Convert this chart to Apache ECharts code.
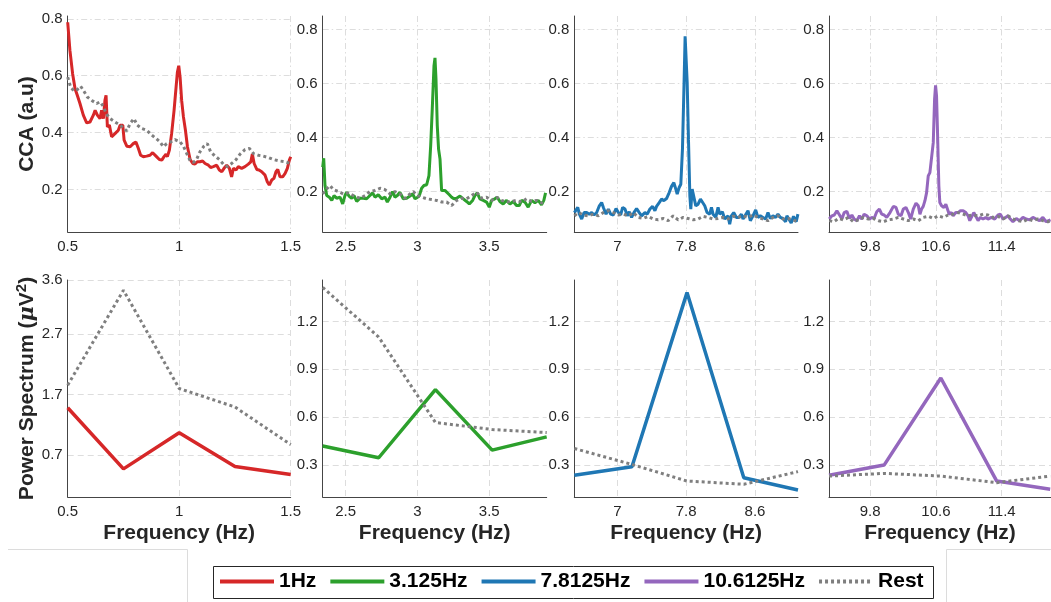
<!DOCTYPE html>
<html>
<head>
<meta charset="utf-8">
<script src="https://cdn.jsdelivr.net/npm/echarts@6/dist/echarts.min.js"></script>
<style>
  html, body { margin: 0; padding: 0; background: #ffffff; }
  #chart { width: 1051px; height: 602px; }
</style>
</head>
<body>
<div id="chart"></div>
<script>
// ---- CCA coefficient vs. frequency (top row), [Hz, a.u] ----
const cca1Hz = [[0.500,0.788],[0.510,0.689],[0.522,0.607],[0.533,0.554],[0.543,0.531],[0.555,0.502],[0.570,0.461],[0.585,0.434],[0.600,0.437],[0.615,0.461],[0.623,0.478],[0.633,0.461],[0.645,0.449],[0.652,0.478],[0.660,0.449],[0.667,0.513],[0.672,0.531],[0.678,0.420],[0.687,0.426],[0.697,0.385],[0.712,0.396],[0.727,0.408],[0.735,0.426],[0.747,0.426],[0.753,0.373],[0.765,0.352],[0.780,0.350],[0.794,0.361],[0.806,0.367],[0.817,0.344],[0.827,0.320],[0.839,0.315],[0.854,0.317],[0.869,0.320],[0.881,0.329],[0.896,0.317],[0.911,0.305],[0.922,0.303],[0.932,0.315],[0.941,0.324],[0.947,0.315],[0.956,0.338],[0.966,0.396],[0.977,0.478],[0.986,0.560],[0.992,0.613],[0.998,0.635],[1.004,0.595],[1.011,0.513],[1.019,0.455],[1.028,0.408],[1.037,0.350],[1.049,0.305],[1.061,0.291],[1.071,0.289],[1.081,0.297],[1.093,0.297],[1.105,0.300],[1.116,0.291],[1.131,0.285],[1.141,0.277],[1.153,0.280],[1.168,0.285],[1.180,0.268],[1.191,0.262],[1.201,0.274],[1.213,0.285],[1.225,0.274],[1.235,0.244],[1.243,0.274],[1.255,0.268],[1.265,0.280],[1.280,0.274],[1.295,0.280],[1.310,0.289],[1.321,0.297],[1.328,0.324],[1.336,0.291],[1.348,0.270],[1.358,0.268],[1.370,0.262],[1.385,0.250],[1.395,0.227],[1.404,0.215],[1.415,0.233],[1.425,0.239],[1.434,0.262],[1.442,0.270],[1.452,0.244],[1.464,0.244],[1.475,0.256],[1.485,0.274],[1.494,0.303],[1.500,0.315]];
const ccaRest1 = [[0.500,0.595],[0.513,0.560],[0.528,0.546],[0.543,0.551],[0.558,0.563],[0.570,0.549],[0.588,0.525],[0.608,0.513],[0.630,0.502],[0.645,0.508],[0.660,0.492],[0.672,0.467],[0.690,0.449],[0.712,0.437],[0.735,0.426],[0.753,0.414],[0.765,0.406],[0.780,0.432],[0.797,0.449],[0.812,0.426],[0.832,0.414],[0.854,0.408],[0.877,0.391],[0.896,0.379],[0.914,0.367],[0.929,0.350],[0.944,0.361],[0.962,0.367],[0.981,0.375],[1.004,0.367],[1.019,0.352],[1.034,0.326],[1.049,0.301],[1.064,0.295],[1.078,0.305],[1.093,0.332],[1.111,0.352],[1.126,0.361],[1.141,0.332],[1.161,0.317],[1.180,0.305],[1.198,0.289],[1.216,0.280],[1.235,0.291],[1.255,0.305],[1.273,0.324],[1.295,0.340],[1.315,0.344],[1.333,0.326],[1.355,0.320],[1.377,0.317],[1.400,0.312],[1.422,0.305],[1.449,0.300],[1.475,0.297],[1.500,0.291]];

const cca3Hz = [[2.340,0.290],[2.347,0.323],[2.356,0.222],[2.368,0.185],[2.386,0.179],[2.403,0.167],[2.419,0.185],[2.437,0.175],[2.461,0.179],[2.479,0.154],[2.495,0.185],[2.507,0.197],[2.523,0.183],[2.542,0.175],[2.558,0.185],[2.577,0.163],[2.600,0.175],[2.623,0.175],[2.646,0.173],[2.669,0.185],[2.688,0.195],[2.704,0.179],[2.727,0.188],[2.751,0.173],[2.774,0.179],[2.790,0.161],[2.809,0.179],[2.827,0.200],[2.843,0.179],[2.860,0.185],[2.878,0.197],[2.901,0.173],[2.925,0.175],[2.948,0.183],[2.966,0.191],[2.983,0.173],[2.999,0.178],[3.013,0.185],[3.029,0.212],[3.045,0.222],[3.064,0.225],[3.080,0.259],[3.092,0.370],[3.103,0.505],[3.115,0.665],[3.122,0.695],[3.129,0.616],[3.138,0.443],[3.147,0.357],[3.157,0.320],[3.168,0.204],[3.180,0.197],[3.191,0.204],[3.203,0.197],[3.222,0.188],[3.238,0.179],[3.254,0.173],[3.273,0.175],[3.296,0.183],[3.319,0.173],[3.342,0.163],[3.361,0.154],[3.384,0.167],[3.400,0.185],[3.416,0.195],[3.435,0.173],[3.458,0.167],[3.481,0.161],[3.500,0.142],[3.516,0.167],[3.539,0.173],[3.556,0.179],[3.574,0.163],[3.597,0.154],[3.621,0.167],[3.644,0.154],[3.667,0.163],[3.690,0.148],[3.709,0.148],[3.725,0.167],[3.748,0.161],[3.771,0.142],[3.795,0.167],[3.818,0.158],[3.841,0.167],[3.864,0.151],[3.880,0.167],[3.892,0.195]];
const ccaRest3 = [[2.340,0.191],[2.368,0.210],[2.391,0.222],[2.414,0.207],[2.449,0.200],[2.484,0.191],[2.519,0.195],[2.553,0.185],[2.600,0.175],[2.635,0.185],[2.669,0.200],[2.704,0.204],[2.739,0.212],[2.774,0.207],[2.809,0.191],[2.843,0.200],[2.878,0.191],[2.913,0.175],[2.948,0.191],[2.971,0.200],[2.999,0.185],[3.029,0.179],[3.064,0.173],[3.099,0.170],[3.133,0.167],[3.168,0.161],[3.203,0.161],[3.238,0.148],[3.273,0.167],[3.307,0.175],[3.342,0.173],[3.377,0.185],[3.412,0.197],[3.447,0.175],[3.481,0.179],[3.516,0.167],[3.551,0.179],[3.586,0.167],[3.621,0.161],[3.655,0.163],[3.690,0.167],[3.725,0.161],[3.760,0.173],[3.795,0.163],[3.829,0.167],[3.864,0.158],[3.892,0.154]];

const cca7Hz = [[6.501,0.122],[6.521,0.116],[6.540,0.141],[6.559,0.116],[6.586,0.098],[6.614,0.122],[6.644,0.122],[6.675,0.116],[6.702,0.122],[6.729,0.113],[6.760,0.122],[6.791,0.147],[6.818,0.159],[6.838,0.141],[6.869,0.116],[6.896,0.135],[6.923,0.116],[6.954,0.113],[6.985,0.137],[7.012,0.122],[7.039,0.113],[7.062,0.141],[7.089,0.135],[7.116,0.110],[7.139,0.125],[7.166,0.104],[7.193,0.122],[7.224,0.137],[7.255,0.122],[7.282,0.110],[7.321,0.122],[7.348,0.116],[7.379,0.135],[7.410,0.145],[7.437,0.129],[7.456,0.145],[7.487,0.159],[7.514,0.172],[7.541,0.166],[7.572,0.174],[7.603,0.196],[7.630,0.219],[7.657,0.233],[7.680,0.209],[7.696,0.190],[7.719,0.215],[7.738,0.227],[7.757,0.356],[7.773,0.566],[7.788,0.775],[7.800,0.782],[7.812,0.603],[7.827,0.393],[7.843,0.184],[7.854,0.135],[7.870,0.209],[7.889,0.215],[7.912,0.147],[7.939,0.153],[7.966,0.172],[7.989,0.166],[8.016,0.147],[8.043,0.122],[8.074,0.116],[8.094,0.141],[8.113,0.116],[8.144,0.104],[8.171,0.141],[8.190,0.116],[8.221,0.125],[8.248,0.098],[8.287,0.110],[8.306,0.079],[8.326,0.110],[8.353,0.122],[8.384,0.104],[8.414,0.104],[8.442,0.116],[8.461,0.098],[8.480,0.092],[8.519,0.129],[8.546,0.092],[8.577,0.110],[8.608,0.132],[8.635,0.104],[8.662,0.110],[8.693,0.104],[8.724,0.098],[8.751,0.122],[8.778,0.100],[8.809,0.110],[8.840,0.104],[8.867,0.116],[8.894,0.104],[8.925,0.100],[8.956,0.088],[8.971,0.110],[8.994,0.098],[9.021,0.083],[9.048,0.108],[9.079,0.088],[9.099,0.116]];
const ccaRest7 = [[6.501,0.110],[6.548,0.122],[6.606,0.113],[6.664,0.110],[6.722,0.116],[6.780,0.110],[6.838,0.122],[6.896,0.129],[6.954,0.122],[7.012,0.113],[7.070,0.116],[7.128,0.110],[7.186,0.122],[7.243,0.104],[7.301,0.100],[7.359,0.108],[7.417,0.098],[7.475,0.095],[7.533,0.100],[7.591,0.092],[7.649,0.110],[7.707,0.095],[7.765,0.104],[7.823,0.100],[7.881,0.095],[7.939,0.098],[7.997,0.108],[8.055,0.104],[8.113,0.098],[8.171,0.100],[8.229,0.104],[8.287,0.098],[8.345,0.108],[8.403,0.104],[8.461,0.110],[8.519,0.104],[8.577,0.113],[8.635,0.104],[8.693,0.098],[8.751,0.092],[8.809,0.104],[8.867,0.110],[8.925,0.098],[8.983,0.100],[9.041,0.095],[9.099,0.088]];

const cca10Hz = [[9.303,0.098],[9.335,0.110],[9.364,0.113],[9.396,0.129],[9.428,0.113],[9.457,0.098],[9.485,0.122],[9.517,0.127],[9.549,0.100],[9.578,0.113],[9.606,0.098],[9.638,0.092],[9.671,0.110],[9.699,0.098],[9.727,0.116],[9.760,0.110],[9.792,0.098],[9.820,0.104],[9.848,0.100],[9.881,0.125],[9.913,0.135],[9.941,0.116],[9.970,0.113],[10.002,0.104],[10.042,0.122],[10.083,0.145],[10.115,0.141],[10.143,0.116],[10.176,0.110],[10.204,0.135],[10.236,0.141],[10.265,0.122],[10.293,0.098],[10.325,0.135],[10.358,0.157],[10.386,0.147],[10.406,0.116],[10.426,0.135],[10.446,0.145],[10.467,0.166],[10.487,0.196],[10.507,0.258],[10.527,0.270],[10.547,0.277],[10.568,0.381],[10.584,0.541],[10.596,0.593],[10.608,0.554],[10.620,0.418],[10.636,0.221],[10.648,0.159],[10.669,0.147],[10.697,0.141],[10.721,0.153],[10.737,0.150],[10.762,0.116],[10.790,0.122],[10.810,0.110],[10.842,0.122],[10.871,0.122],[10.899,0.129],[10.931,0.129],[10.964,0.122],[10.992,0.110],[11.012,0.092],[11.032,0.104],[11.061,0.122],[11.093,0.104],[11.113,0.092],[11.141,0.104],[11.174,0.098],[11.206,0.104],[11.234,0.098],[11.275,0.104],[11.315,0.098],[11.356,0.113],[11.384,0.116],[11.416,0.098],[11.448,0.104],[11.477,0.110],[11.505,0.098],[11.537,0.088],[11.578,0.100],[11.618,0.092],[11.659,0.104],[11.699,0.098],[11.739,0.095],[11.780,0.104],[11.820,0.098],[11.861,0.092],[11.901,0.104],[11.941,0.088],[11.994,0.095]];
const ccaRest10 = [[9.303,0.092],[9.356,0.088],[9.416,0.100],[9.477,0.095],[9.537,0.104],[9.598,0.088],[9.659,0.095],[9.719,0.104],[9.780,0.098],[9.840,0.100],[9.901,0.092],[9.962,0.088],[10.022,0.095],[10.083,0.098],[10.143,0.104],[10.204,0.098],[10.265,0.092],[10.325,0.098],[10.386,0.092],[10.446,0.104],[10.507,0.108],[10.568,0.100],[10.628,0.110],[10.689,0.104],[10.749,0.113],[10.810,0.116],[10.871,0.122],[10.931,0.116],[10.992,0.110],[11.053,0.113],[11.113,0.110],[11.174,0.116],[11.234,0.113],[11.295,0.104],[11.356,0.108],[11.416,0.098],[11.477,0.110],[11.537,0.098],[11.598,0.092],[11.659,0.088],[11.719,0.098],[11.780,0.092],[11.840,0.098],[11.901,0.092],[11.962,0.088],[11.994,0.092]];

// ---- Power spectrum (bottom row), [Hz, µV²] ----
const psd1Hz     = [[0.5,1.48],[0.75,0.467],[1.0,1.067],[1.25,0.505],[1.5,0.372]];
const psdRest1   = [[0.5,1.855],[0.75,3.43],[1.0,1.80],[1.25,1.493],[1.5,0.87]];
const psd3Hz     = [[2.34,0.42],[2.73,0.346],[3.125,0.773],[3.52,0.394],[3.9,0.477]];
const psdRest3   = [[2.34,1.414],[2.73,1.102],[3.125,0.567],[3.52,0.523],[3.9,0.504]];
const psd7Hz     = [[6.5,0.236],[7.17,0.29],[7.81,1.381],[8.47,0.221],[9.1,0.144]];
const psdRest7   = [[6.5,0.404],[7.17,0.304],[7.81,0.20],[8.47,0.18],[9.1,0.259]];
const psd10Hz    = [[9.3,0.236],[9.97,0.30],[10.66,0.846],[11.34,0.20],[11.99,0.148]];
const psdRest10  = [[9.3,0.231],[9.97,0.248],[10.66,0.231],[11.34,0.19],[11.99,0.231]];

// ---- Tick labels ----
const freqTicks = [[0.5, 1, 1.5], [2.5, 3, 3.5], [7, 7.8, 8.6], [9.8, 10.6, 11.4]];
const ccaTicks = [0.2, 0.4, 0.6, 0.8];
const psdTicksLow = [0.7, 1.7, 2.7, 3.6];
const psdTicks = [0.3, 0.6, 0.9, 1.2];

const stimNames = ['1Hz', '3.125Hz', '7.8125Hz', '10.6125Hz'];
const stimColors = ['#d62728', '#2ca02c', '#1f77b4', '#9467bd'];
const restColor = '#7f7f7f';

const ccaStim = [cca1Hz, cca3Hz, cca7Hz, cca10Hz];
const ccaRest = [ccaRest1, ccaRest3, ccaRest7, ccaRest10];
const psdStim = [psd1Hz, psd3Hz, psd7Hz, psd10Hz];
const psdRest = [psdRest1, psdRest3, psdRest7, psdRest10];

// panel layout
const colLeft = [67.7, 322.7, 574.3, 829];
const colWidth = [223, 224, 223.7, 222];
const freqRange = [[0.5, 1.5], [2.34, 3.9], [6.5, 9.1], [9.3, 12.0]];
const ccaRange = [[0.05, 0.81], [0.05, 0.85], [0.05, 0.85], [0.05, 0.85]];
const psdRange = [[0, 3.6], [0.1, 1.46], [0.1, 1.46], [0.1, 1.46]];

const FONT = 'Liberation Sans, Arial, Helvetica, sans-serif';
const TXT = '#262626';
const AXIS = '#454545';
const GRIDC = '#dddddd';

const grids = [], xAxes = [], yAxes = [], series = [];

function axisCommon(ticks, dashType) {
  return {
    axisLine: { show: true, onZero: false, lineStyle: { color: AXIS, width: 1 } },
    axisTick: { show: false, customValues: ticks },
    axisLabel: { customValues: ticks, fontSize: 15, color: TXT, fontFamily: FONT },
    splitLine: { show: true, lineStyle: { color: GRIDC, width: 1, type: dashType } }
  };
}

for (let row = 0; row < 2; row++) {
  for (let c = 0; c < 4; c++) {
    const idx = row * 4 + c;
    const dash = row === 0 ? [6, 3, 1.5, 3] : [6, 4];
    grids.push({
      left: colLeft[c], width: colWidth[c],
      top: row === 0 ? 16 : 280, height: row === 0 ? 216 : 217,
      containLabel: false
    });
    const xa = Object.assign({
      type: 'value', gridIndex: idx,
      min: freqRange[c][0], max: freqRange[c][1]
    }, axisCommon(freqTicks[c], dash));
    xa.axisLabel.margin = 7;
    if (row === 1) {
      xa.name = 'Frequency (Hz)';
      xa.nameLocation = 'middle';
      xa.nameGap = 26;
      xa.nameTextStyle = { fontSize: 21, fontWeight: 'bold', color: TXT, fontFamily: FONT };
    }
    xAxes.push(xa);

    const yt = row === 0 ? ccaTicks : (c === 0 ? psdTicksLow : psdTicks);
    const yr = row === 0 ? ccaRange[c] : psdRange[c];
    const ya = Object.assign({
      type: 'value', gridIndex: idx, min: yr[0], max: yr[1]
    }, axisCommon(yt, dash));
    ya.axisLabel.margin = 5;
    if (c === 0) {
      ya.nameLocation = 'middle';
      ya.nameRotate = 90;
      ya.nameGap = 22;
      ya.nameTextStyle = {
        fontSize: 21, fontWeight: 'bold', color: TXT, fontFamily: FONT,
        rich: {
          mu: { fontSize: 21, fontWeight: 'bold', fontStyle: 'italic', color: TXT, fontFamily: 'DejaVu Serif, serif' },
          sup: { fontSize: 15, fontWeight: 'bold', color: TXT, fontFamily: FONT, padding: [0, 0, 12, 0] }
        }
      };
      ya.name = row === 0 ? 'CCA (a.u)' : 'Power Spectrum ({mu|μ}V{sup|2})';
    }
    yAxes.push(ya);

    const stimData = row === 0 ? ccaStim[c] : psdStim[c];
    const restData = row === 0 ? ccaRest[c] : psdRest[c];
    series.push({
      name: stimNames[c], type: 'line', xAxisIndex: idx, yAxisIndex: idx,
      data: stimData, symbol: 'none', smooth: false, z: 3,
      lineStyle: { color: stimColors[c], width: row === 0 ? 3 : 3.5 },
      itemStyle: { color: stimColors[c] }
    });
    series.push({
      name: 'Rest', type: 'line', xAxisIndex: idx, yAxisIndex: idx,
      data: restData, symbol: 'none', z: 4,
      lineStyle: { color: restColor, width: 3, type: [3, 3], cap: 'butt' },
      itemStyle: { color: restColor }
    });
  }
}

const chart = echarts.init(document.getElementById('chart'), null, { renderer: 'canvas' });
chart.setOption({
  animation: false,
  backgroundColor: '#ffffff',
  grid: grids,
  xAxis: xAxes,
  yAxis: yAxes,
  series: series,
  legend: {
    data: stimNames.concat(['Rest']),
    left: 218, top: 571,
    padding: 0,
    itemWidth: 54, itemHeight: 10, itemGap: 12,
    itemStyle: { opacity: 0 },
    lineStyle: { width: 4 },
    textStyle: { fontSize: 21, fontWeight: 'bold', color: '#000000', fontFamily: FONT },
    z: 5
  },
  graphic: [
    { type: 'rect', shape: { x: 213.5, y: 566.5, width: 720, height: 32 },
      style: { fill: '#ffffff', stroke: '#262626', lineWidth: 1 }, z: 1 },
    { type: 'line', shape: { x1: 8, y1: 549.5, x2: 187.5, y2: 549.5 },
      style: { stroke: '#dcdcdc', lineWidth: 1 }, z: 1 },
    { type: 'line', shape: { x1: 187.5, y1: 549.5, x2: 187.5, y2: 602 },
      style: { stroke: '#dcdcdc', lineWidth: 1 }, z: 1 },
    { type: 'line', shape: { x1: 946.5, y1: 549.5, x2: 1051, y2: 549.5 },
      style: { stroke: '#dcdcdc', lineWidth: 1 }, z: 1 },
    { type: 'line', shape: { x1: 946.5, y1: 549.5, x2: 946.5, y2: 602 },
      style: { stroke: '#dcdcdc', lineWidth: 1 }, z: 1 }
  ]
});
</script>
</body>
</html>
